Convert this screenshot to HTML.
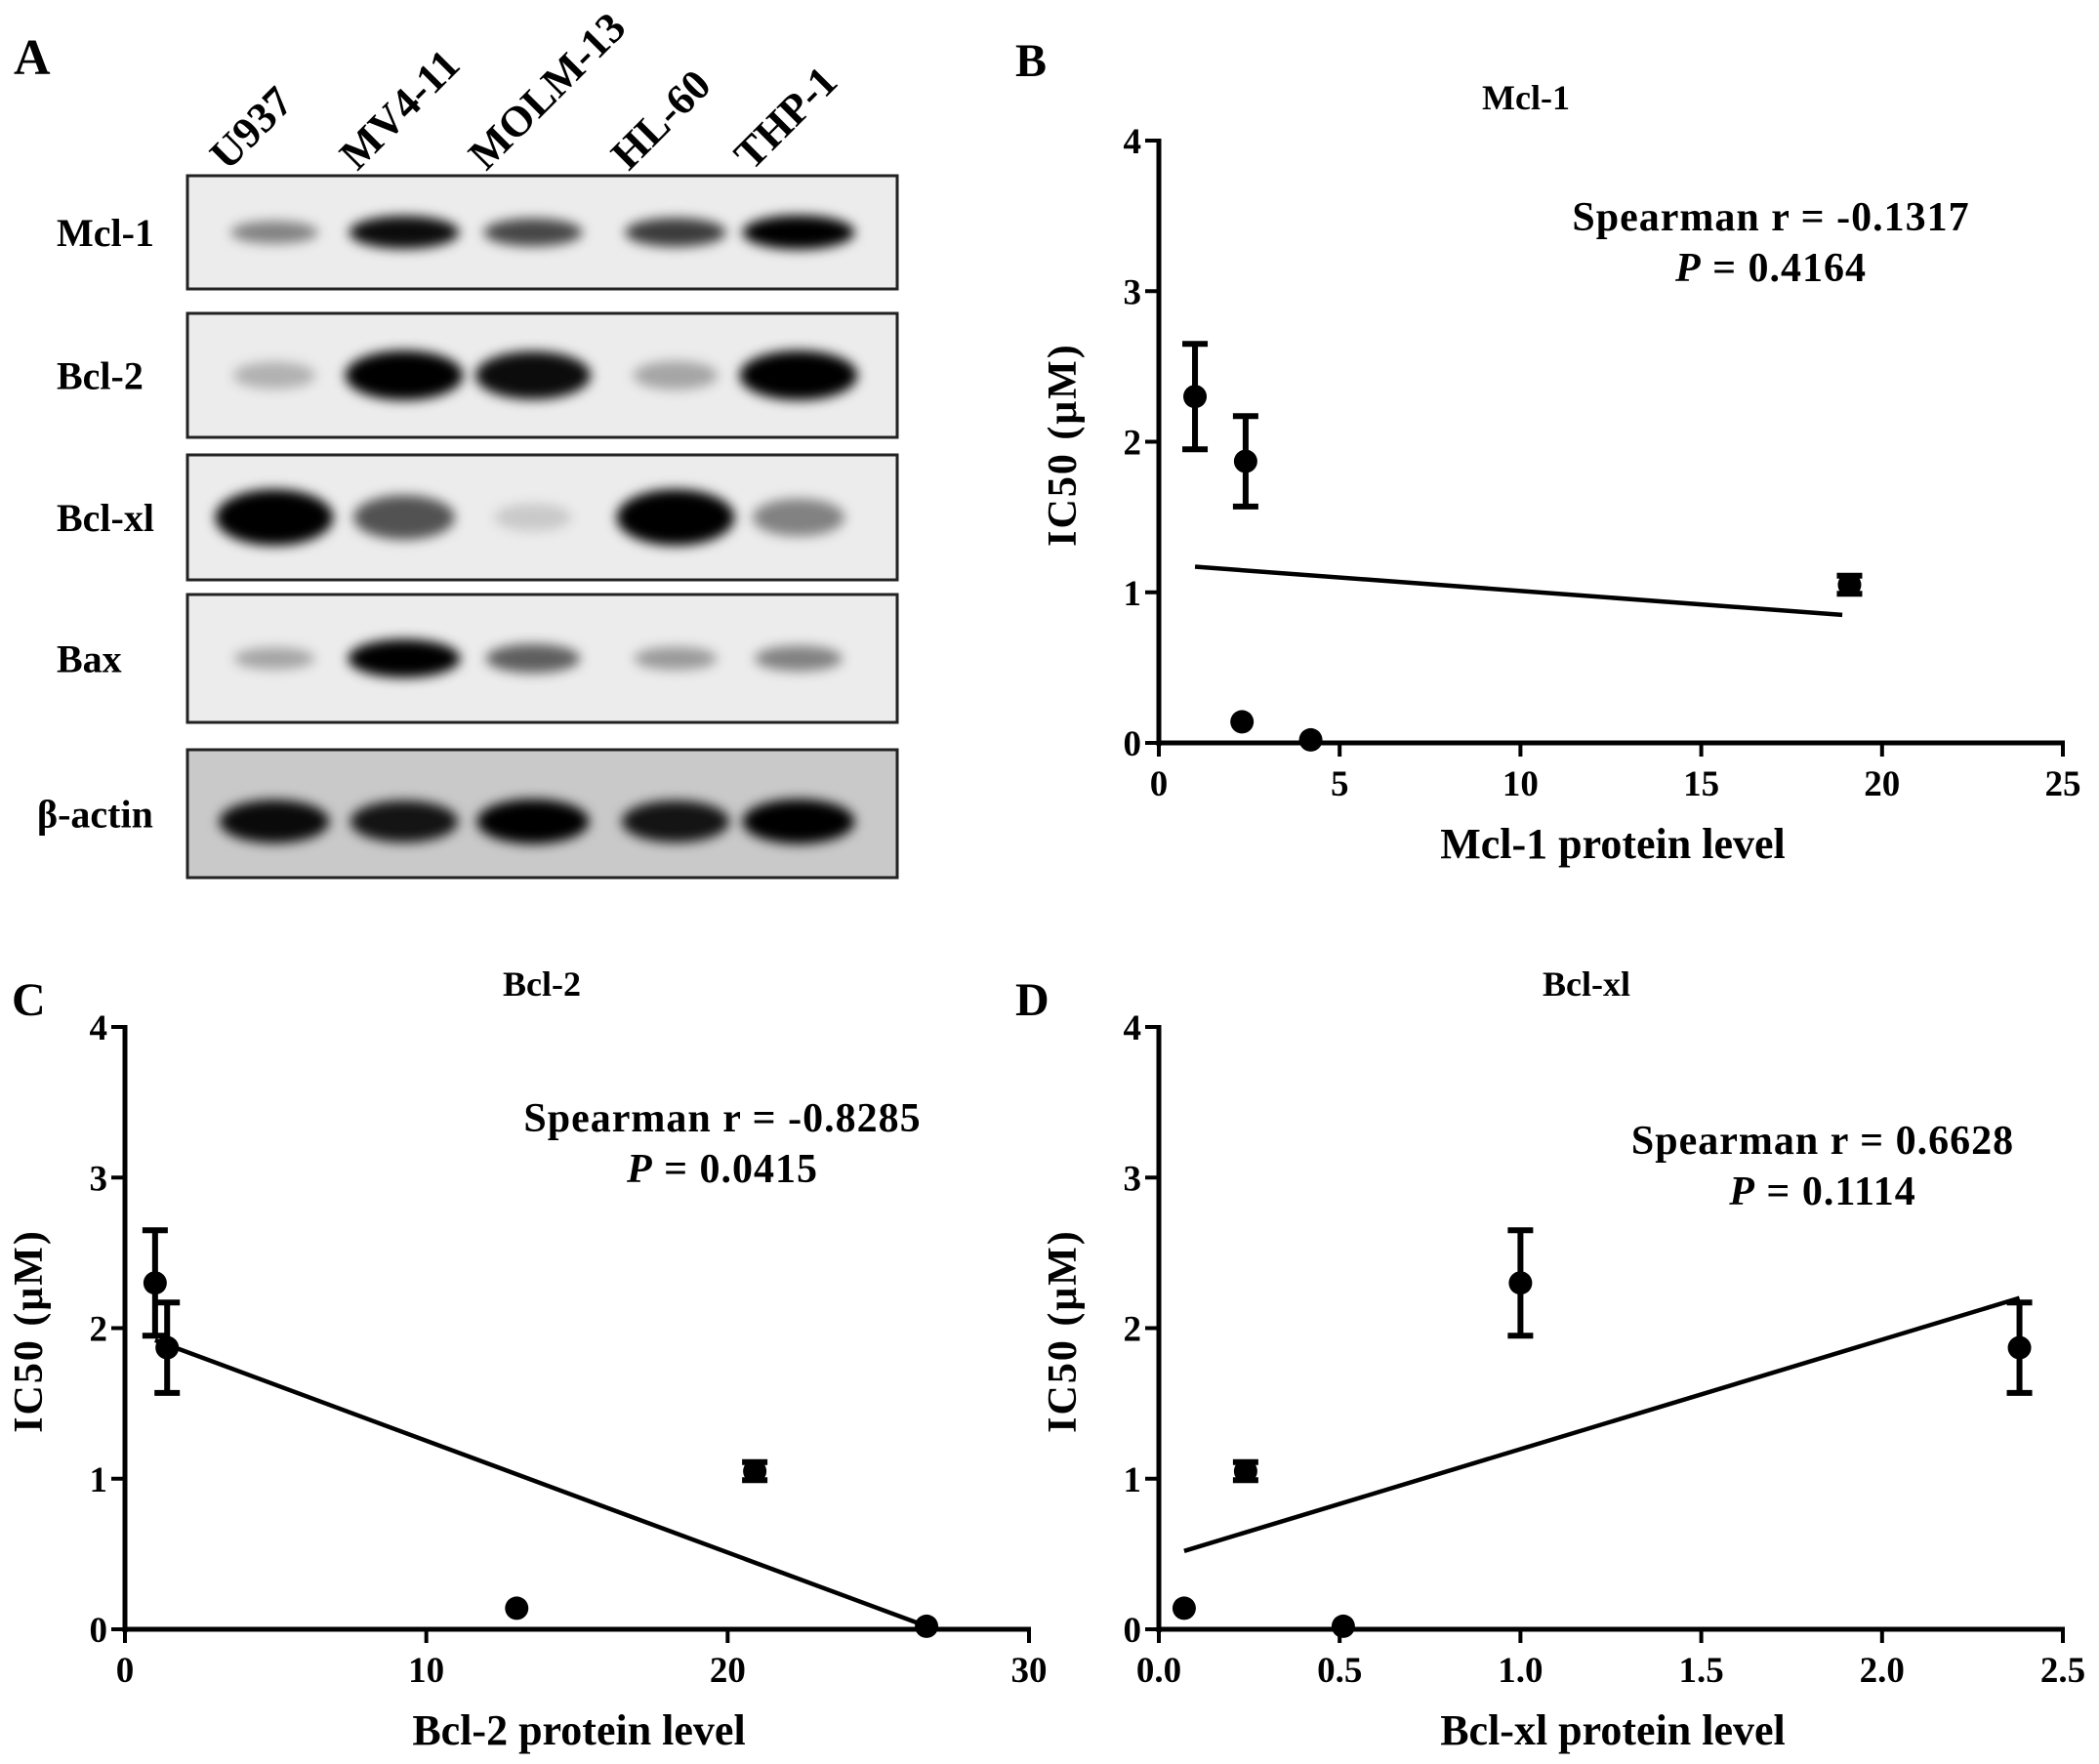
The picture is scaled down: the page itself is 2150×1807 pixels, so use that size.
<!DOCTYPE html>
<html><head><meta charset="utf-8"><style>
html,body{margin:0;padding:0;background:#fff;}
svg{display:block;font-family:"Liberation Serif",serif;font-weight:bold;}
</style></head><body>
<svg id="fig" width="2150" height="1807" viewBox="0 0 2150 1807" xmlns="http://www.w3.org/2000/svg">
<defs>
<filter id="blur" x="-50%" y="-100%" width="200%" height="300%"><feGaussianBlur stdDeviation="6"/></filter>
</defs>
<text x="14" y="76" font-size="52">A</text>
<text x="1040" y="78" font-size="48">B</text>
<text x="12" y="1040" font-size="48">C</text>
<text x="1040" y="1040" font-size="48">D</text>
<g id="blot"></g>
<g id="chartB"></g>
<g id="chartC"></g>
<g id="chartD"></g>
</svg>
<script>
const NS="http://www.w3.org/2000/svg";
function mk(tag,attrs,parent){const e=document.createElementNS(NS,tag);for(const k in attrs)e.setAttribute(k,attrs[k]);parent.appendChild(e);return e;}

// ---- Western blot data ----
const lanes=["U937","MV4-11","MOLM-13","HL-60","THP-1"];
const proteins=["Mcl-1","Bcl-2","Bcl-xl","Bax","β-actin"];
const mcl1Int=[0.45,0.95,0.7,0.75,1.0];
const bcl2Int=[0.25,1.0,0.95,0.3,1.0];
const bclxlInt=[1.0,0.65,0.15,1.0,0.45];
const baxInt=[0.3,1.0,0.6,0.35,0.45];
const actinInt=[0.95,0.9,1.0,0.9,1.0];
const intensities=[mcl1Int,bcl2Int,bclxlInt,baxInt,actinInt];
const bandSize=[[1.0,0.3],[1.05,0.4],[1.05,0.45],[1.0,0.3],[1.0,0.35]];
const boxes=[[180,296],[321,448],[466,594],[609,740],[768,899]];
(function(){
  const g=document.getElementById('blot');
  const x0=192,x1=919;
  const laneX=[281,414,546,692,818];
  lanes.forEach((l,i)=>{
    const sx=laneX[i]-48,sy=176;
    const t=mk('text',{x:sx,y:sy,'font-size':44,transform:`rotate(-45 ${sx} ${sy})`},g);
    
    
    t.textContent=l;
  });
  proteins.forEach((p,r)=>{
    const [ya,yb]=boxes[r];
    const rect=mk('rect',{x:x0,y:ya,width:x1-x0,height:yb-ya,fill:r==4?'#c9c9c9':'#ececec',stroke:'#222','stroke-width':3},g);
    
    
    const cy=(ya+yb)/2+(r==4?8:0);
    intensities[r].forEach((v,i)=>{
      const w=115*bandSize[r][0]*(0.6+0.4*v),h=(yb-ya)*bandSize[r][1]*(0.4+0.6*v);
      const e=mk('ellipse',{cx:laneX[i],cy:cy,rx:w/2,ry:h/2,fill:'#000','fill-opacity':v,filter:'url(#blur)'},g);
      
      
    });
    const lt=mk('text',{x:r==4?38:58,y:(ya+yb)/2+14,'font-size':40},g);
    
    
    lt.textContent=p;
  });
})();

// ---- Chart B data ----
const bX=[1.0,2.4,2.3,4.2,19.1];
const bY=[2.3,1.87,0.14,0.02,1.05];
const bErr=[0.35,0.3,0,0,0.06];
const bLineX=[1.0,18.9];
const bLineY=[1.17,0.85];
const bXTicks=[0,5,10,15,20,25];
// ---- Chart C data ----
const cX=[1.0,1.4,13.0,20.9,26.6];
const cY=[2.3,1.87,0.14,1.05,0.02];
const cErr=[0.35,0.3,0,0.06,0];
const cLineX=[1.0,26.6];
const cLineY=[1.92,0.02];
const cXTicks=[0,10,20,30];
// ---- Chart D data ----
const dX=[1.0,2.38,0.07,0.24,0.51];
const dY=[2.3,1.87,0.14,1.05,0.02];
const dErr=[0.35,0.3,0,0.06,0];
const dLineX=[0.07,2.38];
const dLineY=[0.52,2.2];
const dXTicks=["0.0","0.5","1.0","1.5","2.0","2.5"];
const yTicks=[0,1,2,3,4];

function chart(id,ax,ay,xmax,title,xlabel,xs,ys,errs,lx,ly,xticks,stat,pval,statX,statY,titleX){
  const g=document.getElementById(id);
  const W=926,H=617;
  const X=v=>ax+v/xmax*W, Y=v=>ay-v/4*H;
  const yAx=mk('line',{x1:ax,y1:Y(4)-2,x2:ax,y2:ay+3,stroke:'#000','stroke-width':5},g);
  
  
  const xAx=mk('line',{x1:ax-2,y1:ay,x2:X(xmax)+2,y2:ay,stroke:'#000','stroke-width':5},g);
  
  
  yTicks.forEach(v=>{
    mk('line',{x1:ax-14,y1:Y(v),x2:ax,y2:Y(v),stroke:'#000','stroke-width':4},g);
    const t=mk('text',{x:ax-18,y:Y(v)+13,'font-size':37,'text-anchor':'end'},g);
    
    
    t.textContent=v;
  });
  xticks.forEach(v=>{
    const xv=X(parseFloat(v));
    mk('line',{x1:xv,y1:ay,x2:xv,y2:ay+14,stroke:'#000','stroke-width':4},g);
    const t=mk('text',{x:xv,y:ay+54,'font-size':37,'text-anchor':'middle'},g);
    
    
    t.textContent=v;
  });
  const tl=mk('text',{x:titleX,y:ay-H-32,'font-size':36,'text-anchor':'middle'},g);
  
  
  tl.textContent=title;
  const xl=mk('text',{x:ax+W/2+2,y:ay+118,'font-size':44,'text-anchor':'middle'},g);
  
  
  xl.textContent=xlabel;
  const yx=ax-85,yy=ay-H/2+3;
  const yl=mk('text',{x:yx,y:yy,'font-size':42,'text-anchor':'middle','letter-spacing':2,transform:`rotate(-90 ${yx} ${yy})`},g);
  
  
  yl.textContent='IC50  (μM)';
  const st=mk('text',{x:statX,y:statY,'font-size':42,'text-anchor':'middle','letter-spacing':1},g);
  
  
  st.textContent=stat;
  const pt=mk('text',{x:statX,y:statY+52,'font-size':42,'text-anchor':'middle','letter-spacing':1},g);
  
  
  const pi=mk('tspan',{'font-style':'italic'},pt);pi.textContent='P';
  const pr=mk('tspan',{},pt);pr.textContent=' = '+pval;
  const rl=mk('line',{x1:X(lx[0]),y1:Y(ly[0]),x2:X(lx[1]),y2:Y(ly[1]),stroke:'#000','stroke-width':4.5},g);
  
  
  xs.forEach((v,i)=>{
    const cx=X(v),cy=Y(ys[i]);
    if(errs[i]>0){
      const e1=Y(ys[i]+errs[i]),e2=Y(ys[i]-errs[i]);
      const eb=mk('path',{d:`M${cx},${e1}V${e2}M${cx-13},${e1}H${cx+13}M${cx-13},${e2}H${cx+13}`,stroke:'#000','stroke-width':6,fill:'none'},g);
      
      
    }
    const c=mk('circle',{cx:cx,cy:cy,r:12,fill:'#000'},g);
    
    
  });
}
chart('chartB',1187,761,25,'Mcl-1','Mcl-1 protein level',bX,bY,bErr,bLineX,bLineY,bXTicks,'Spearman r = -0.1317','0.4164',1814,236,1563);
chart('chartC',128,1669,30,'Bcl-2','Bcl-2 protein level',cX,cY,cErr,cLineX,cLineY,cXTicks,'Spearman r = -0.8285','0.0415',740,1159,555);
chart('chartD',1187,1669,2.5,'Bcl-xl','Bcl-xl protein level',dX,dY,dErr,dLineX,dLineY,dXTicks,'Spearman r = 0.6628','0.1114',1867,1182,1625);
</script>
</body></html>
